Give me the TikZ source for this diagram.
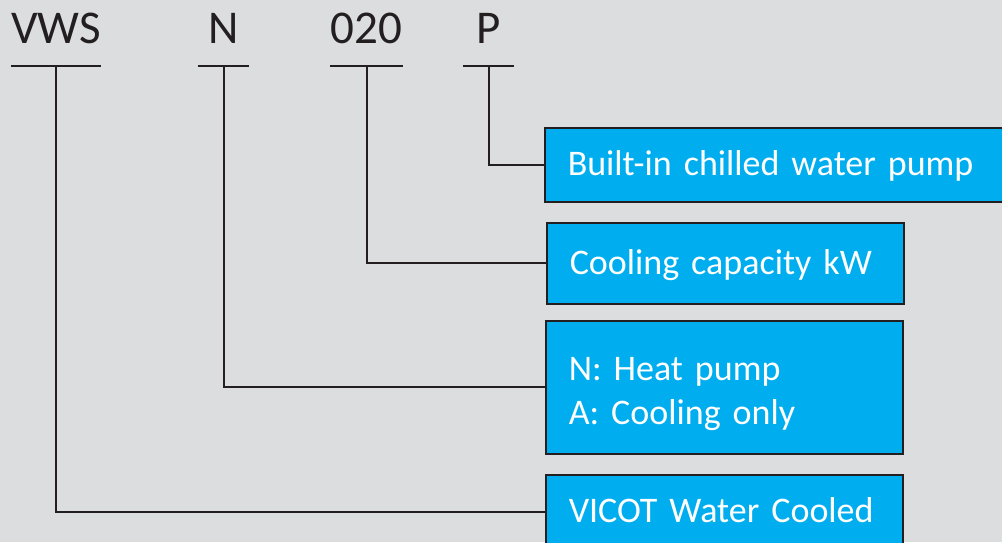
\documentclass[tikz,border=0pt]{standalone}
\usepackage{fontspec}
\setmainfont{Carlito}
\usetikzlibrary{positioning}
\definecolor{bggray}{RGB}{220,221,223}
\definecolor{boxcyan}{RGB}{0,174,239}
\definecolor{linedark}{RGB}{35,31,32}

\begin{document}
\begin{tikzpicture}[x=1pt,y=-1pt,
  code/.style={anchor=south,inner xsep=0pt,inner ysep=22pt,text depth=0pt,
    font=\fontsize{47}{56}\selectfont,text=linedark},
  infobox/.style={draw=linedark,line width=1.5pt,fill=boxcyan,text=white,
    anchor=north west,inner xsep=23pt,inner ysep=0pt,align=left,
    font=\fontsize{36}{44}\selectfont,
    execute at begin node={\hyphenpenalty=10000\relax\exhyphenpenalty=10000\relax}},
  oneline/.style={text height=30pt,text depth=8pt},
  link/.style={draw=linedark,line width=2pt}]
\useasboundingbox (0,0) rectangle (1002,542);
\fill[bggray] (0,0) rectangle (1002,542);
\clip (0,0) rectangle (1002,542);

% model code
\node[code,minimum width=89pt] (vws) at (56,66) {VWS};
\node[code,minimum width=51pt] (mode) at (223.5,66) {N};
\node[code,minimum width=72pt] (cap) at (366.5,66) {020};
\node[code,minimum width=51pt] (pump) at (488.5,66) {P};
\foreach \c in {vws,mode,cap,pump}
  \draw[link] (\c.south west) -- (\c.south east);

% explanations
\node[infobox,oneline,minimum width=460pt,minimum height=74pt,text width=414pt]
  (pumpbox) at (544,127) {Built-in~chilled~water~pump};
\node[infobox,oneline,minimum width=357pt,minimum height=81pt,text width=311pt]
  (capbox) at (546,222) {Cooling~capacity~kW};
\node[infobox,minimum width=357pt,minimum height=133pt,text width=311pt,
  text height=30pt,text depth=43pt]
  (modebox) at (545,320) {N:~Heat~pump\\A:~Cooling~only};
\node[infobox,oneline,minimum width=357pt,minimum height=74pt,text width=311pt]
  (vwsbox) at (545,474) {VICOT~Water~Cooled};

\draw[link] (pump.south) |- (pumpbox.west);
\draw[link] (cap.south) |- (capbox.west);
\draw[link] (mode.south) |- (modebox.west);
\draw[link] (vws.south) |- (vwsbox.west);
\end{tikzpicture}
\end{document}
